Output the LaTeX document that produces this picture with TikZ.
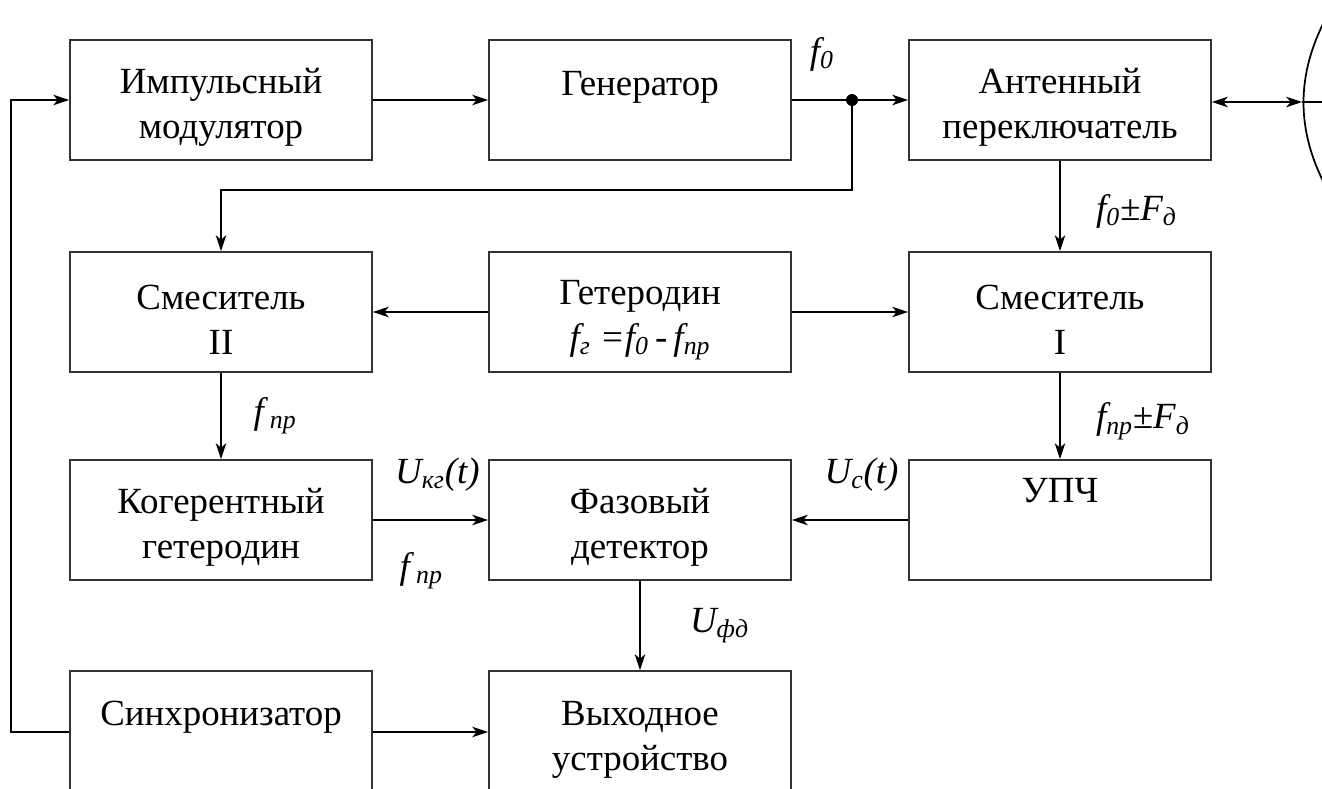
\documentclass[tikz,border=0pt]{standalone}
\usepackage{fontspec}
\setmainfont{Liberation Serif}
\usetikzlibrary{arrows.meta}

\tikzset{
    block/.style={draw=black!80, line width=1.1pt, minimum width=6.04cm, minimum height=2.4cm, align=center, inner sep=2pt, font=\fontsize{21}{25.5}\selectfont},
    sig/.style={inner sep=0pt, font=\fontsize{21}{25}\selectfont\itshape},
    arr/.style={line width=1pt, -{Stealth[length=9pt, width=6pt, inset=2.5pt]}},
    dblarr/.style={line width=1pt, {Stealth[length=9pt, width=6pt, inset=2.5pt]}-{Stealth[length=9pt, width=6pt, inset=2.5pt]}},
}
\newcommand{\sbs}[1]{\textsubscript{#1}}
\newcommand{\tst}{\rule{0pt}{23pt}}

\begin{document}
\begin{tikzpicture}[x=0.02cm, y=-0.02cm]
        \useasboundingbox (0,0) rectangle (1322,788);
        \clip (0,0) rectangle (1322,788);
        % blocks
        \node[block] (imp) at (221,100) {\tst Импульсный\\модулятор};
        \node[block] (gen) at (640,100) {\tst Генератор\\[-2pt]\phantom{у}};
        \node[block] (ant) at (1060,100) {\tst Антенный\\переключатель};
        \node[block] (mixB) at (221,312) {\tst Смеситель\\II};
        \node[block] (het) at (640,312) {\tst Гетеродин\\\textit{f\sbs{г} =f\sbs{0}\,-\,f\sbs{пр}}};
        \node[block] (mixA) at (1060,312) {\tst Смеситель\\I};
        \node[block] (coh) at (221,520) {\tst Когерентный\\гетеродин};
        \node[block] (phd) at (640,520) {\tst Фазовый\\детектор};
        \node[block] (upch) at (1060,520) {УПЧ\\[4pt]\phantom{у}};
        \node[block, minimum height=2.44cm] (sync) at (221,732) {\tst Синхронизатор\\\phantom{у}};
        \node[block, minimum height=2.44cm] (out) at (640,732) {\tst Выходное\\устройство};
        %
        \coordinate (tap) at (852,100);
        \coordinate (feed) at (1302,102);
        \coordinate (rim) at (1322,102);
        %
        \draw[arr] (imp.east) -- (gen.west);
        \draw[line width=1pt] (gen.east) -- node[sig, above=16pt, pos=0.5] {f\sbs{0}} (tap);
        \draw[arr] (tap) -- (ant.west);
        \fill (tap) circle (6);
        \draw[arr] (tap) -- ++(0,90) -| (mixB.north);
        \draw[dblarr] (ant.east |- feed) -- (feed);
        \draw[line width=0.8pt] (feed) -- (rim);
        \draw[line width=1pt] (1326,18) .. controls (1296,75) and (1296,130) .. (1326,187);
        %
        \draw[arr] (ant) -- node[sig, right=20pt, yshift=-3pt] {f\sbs{0}±F\sbs{д}} (mixA);
        \draw[arr] (het) -- (mixB);
        \draw[arr] (het) -- (mixA);
        \draw[arr] (mixB) -- node[sig, right=18pt] {f\,\sbs{пр}} (coh);
        \draw[arr] (mixA) -- node[sig, right=20pt, yshift=-3pt] {f\sbs{пр}±F\sbs{д}} (upch);
        \draw[arr] (coh) -- node[sig, above=16pt, pos=0.56] {U\sbs{кг}(t)}
                   node[sig, below=18pt, pos=0.42] {f\,\sbs{пр}} (phd);
        \draw[arr] (upch) -- node[sig, above=16pt, pos=0.4] {U\sbs{c}(t)} (phd);
        \draw[arr] (phd) -- node[sig, right=28pt] {U\sbs{фд}} (out);
        \draw[arr] (sync) -- (out);
        \draw[arr] (sync.west) -- ++(-58,0) |- (imp.west);
\end{tikzpicture}
\end{document}
